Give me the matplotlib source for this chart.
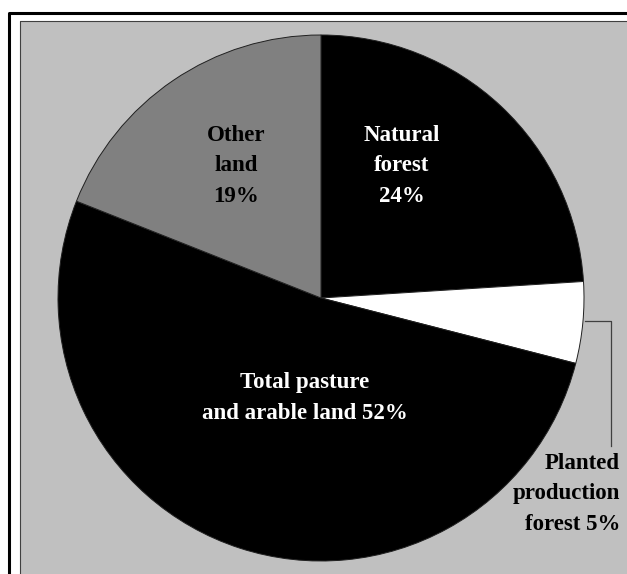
import matplotlib
matplotlib.use("Agg")
import matplotlib.pyplot as plt
from matplotlib.patches import Rectangle
from matplotlib.lines import Line2D

# land use shares (%), clockwise from 12 o'clock
categories = ["Natural forest", "Planted production forest",
              "Total pasture and arable land", "Other land"]
shares = [24, 5, 52, 19]
slice_colors = ["#000000", "#ffffff", "#000000", "#808080"]

W, H = 627, 574
fig = plt.figure(figsize=(W / 100, H / 100), dpi=100)
fig.patch.set_facecolor("white")

def px(x, y):
    # pixel position (from top-left) -> figure fraction
    return x / W, 1 - y / H

# outer black frame and grey plot area (both run off the right/bottom edge)
x0, y0 = px(8.5, 13)
fig.add_artist(Line2D([x0, x0, 1.0], [0.0, y0, y0], transform=fig.transFigure,
                      color="black", lw=2.2, zorder=-20))
x1, y1 = px(20, 21)
fig.add_artist(Rectangle((x1, 0), 1 - x1, y1, transform=fig.transFigure,
                         facecolor="#c0c0c0", edgecolor="none", zorder=-15))
fig.add_artist(Line2D([x1, x1, 1.0], [0.0, y1, y1], transform=fig.transFigure,
                      color="#404040", lw=0.8, zorder=-10))

# pie axes: centre (321, 298), radius 263 px
cx, cy, r = 321, 298, 263
ax = fig.add_axes([(cx - r) / W, (H - cy - r) / H, 2 * r / W, 2 * r / H])

ax.pie(shares, colors=slice_colors, startangle=90, counterclock=False,
       radius=1, wedgeprops=dict(edgecolor="#202020", linewidth=0.7))
ax.set_xlim(-1, 1)
ax.set_ylim(-1, 1)
ax.set_aspect("equal")
ax.axis("off")

def d(x, y):
    # pixel position -> pie data coords
    return (x - cx) / r, (cy - y) / r

font = dict(family="Liberation Serif", weight="bold", fontsize=16.5)
ls = 1.6

ax.text(*d(236, 166), "Other\nland\n%d%%" % shares[3], color="black",
        ha="center", va="center", linespacing=ls, **font)
ax.text(*d(402, 166), "Natural\nforest\n%d%%" % shares[0], color="white",
        ha="center", va="center", linespacing=ls, **font)
ax.text(*d(305, 398), "Total pasture\nand arable land %d%%" % shares[2],
        color="white", ha="center", va="center", linespacing=ls, **font)
ax.text(*d(620, 494), "Planted\nproduction\nforest %d%%" % shares[1],
        color="black", ha="right", va="center", linespacing=ls,
        clip_on=False, **font)

# leader line for the small planted forest slice
lx = [d(585, 321)[0], d(611, 321)[0], d(611, 446)[0]]
ly = [d(585, 321)[1], d(611, 321)[1], d(611, 446)[1]]
ax.plot(lx, ly, color="#404040", lw=0.9, clip_on=False)

fig.savefig("out.png", dpi=100)
